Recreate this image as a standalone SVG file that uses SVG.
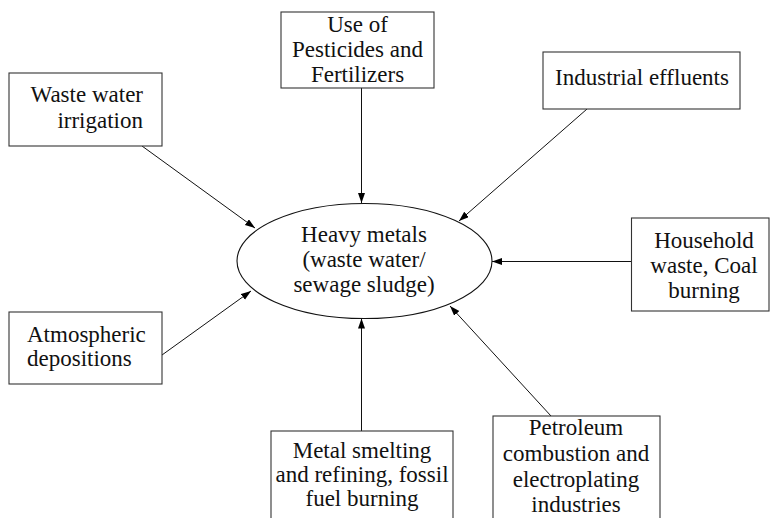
<svg xmlns="http://www.w3.org/2000/svg" width="770" height="518" viewBox="0 0 770 518">
<defs>
<marker id="arrow" markerUnits="userSpaceOnUse" markerWidth="11" markerHeight="8" refX="10" refY="3.5" orient="auto">
<path d="M0,0 L10,3.5 L0,7 z" fill="#000"/>
</marker>
<style>
.box{fill:#fff;stroke:#333;stroke-width:1.1}
.t{font-family:'Liberation Serif','Times New Roman',Times,'DejaVu Serif',serif;font-size:23px;fill:#111}
.c{text-anchor:middle}
.e{text-anchor:end}
.conn line{stroke:#111;stroke-width:1;marker-end:url(#arrow)}
</style>
</defs>
<rect width="770" height="518" fill="#fff"/>
<g id="connectors" class="conn">
<line x1="142" y1="146" x2="255" y2="228"/>
<line x1="361.5" y1="88" x2="361.5" y2="203"/>
<line x1="587" y1="109" x2="459" y2="221"/>
<line x1="631.5" y1="261.5" x2="492" y2="261.5"/>
<line x1="551" y1="416" x2="450" y2="306"/>
<line x1="361.5" y1="431" x2="361.5" y2="318.5"/>
<line x1="162" y1="355" x2="251" y2="291"/>
</g>
<g id="center">
<ellipse cx="364.5" cy="261" rx="127.5" ry="57.5" fill="#fff" stroke="#111" stroke-width="1.1"/>
<text class="t c" x="364" y="241.5" font-family="Liberation Serif, serif">Heavy metals</text>
<text class="t c" x="364" y="266.5" font-family="Liberation Serif, serif">(waste water/</text>
<text class="t c" x="364" y="291.5" font-family="Liberation Serif, serif">sewage sludge)</text>
</g>
<g id="waste-water">
<rect class="box" x="9" y="73" width="153" height="73"/>
<text class="t e" x="143" y="102">Waste water</text>
<text class="t e" x="143" y="128">irrigation</text>
</g>
<g id="pesticides">
<rect class="box" x="281" y="12" width="153" height="76"/>
<text class="t c" x="357.5" y="31.5">Use of</text>
<text class="t c" x="357.5" y="56.5">Pesticides and</text>
<text class="t c" x="357.5" y="81.5">Fertilizers</text>
</g>
<g id="industrial">
<rect class="box" x="543" y="52" width="197" height="57"/>
<text class="t c" x="642" y="85">Industrial effluents</text>
</g>
<g id="household">
<rect class="box" x="631.5" y="218" width="137.5" height="93"/>
<text class="t c" x="704" y="248">Household</text>
<text class="t c" x="704" y="273">waste, Coal</text>
<text class="t c" x="704" y="298">burning</text>
</g>
<g id="petroleum">
<rect class="box" x="493" y="416" width="167" height="110"/>
<text class="t c" x="576" y="435">Petroleum</text>
<text class="t c" x="576" y="461">combustion and</text>
<text class="t c" x="576" y="486.5">electroplating</text>
<text class="t c" x="576" y="511.5">industries</text>
</g>
<g id="metal">
<rect class="box" x="271" y="431" width="182" height="95"/>
<text class="t c" x="362" y="458">Metal smelting</text>
<text class="t c" x="362" y="482">and refining, fossil</text>
<text class="t c" x="362" y="506">fuel burning</text>
</g>
<g id="atmospheric">
<rect class="box" x="9" y="312" width="153" height="72"/>
<text class="t" x="27" y="342">Atmospheric</text>
<text class="t" x="27" y="366">depositions</text>
</g>
</svg>
